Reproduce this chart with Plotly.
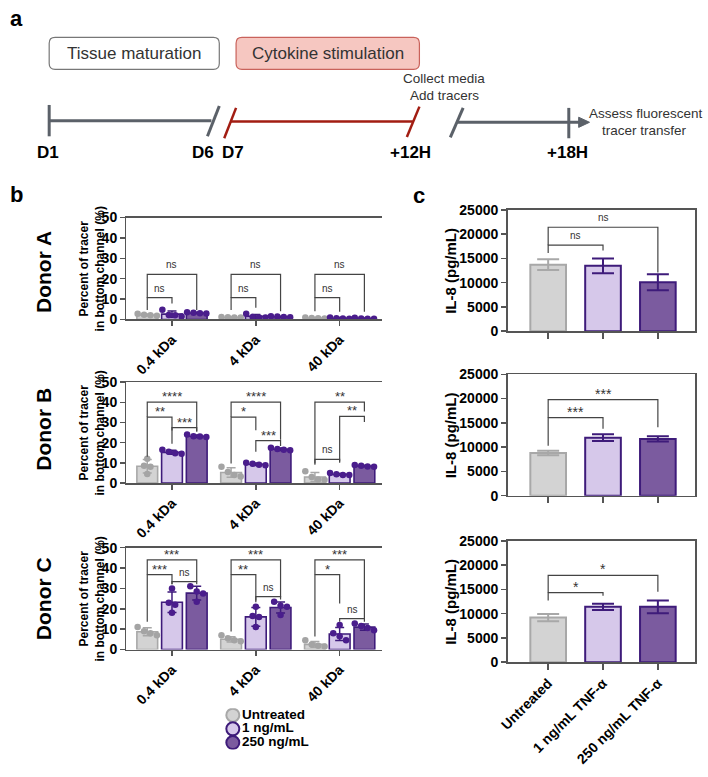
import plotly.graph_objects as go

# ---------------- data ----------------
tracer_sizes = ["0.4 kDa", "4 kDa", "40 kDa"]
treatments = ["Untreated", "1 ng/mL", "250 ng/mL"]
donors = ["Donor A", "Donor B", "Donor C"]

# rows: Untreated, 1 ng/mL, 250 ng/mL ; cols: 0.4, 4, 40 kDa
donorA_mean = [[2.2, 1.0, 0.7], [2.6, 1.5, 0.6], [3.2, 1.3, 0.5]]
donorA_sd = [[0.5, 0.2, 0.2], [1.5, 0.9, 0.3], [0.3, 0.3, 0.2]]
donorA_pts = [
    [[2.8, 2.0, 1.8, 2.3], [1.2, 1.0, 0.9, 1.1], [1.0, 0.7, 0.5, 0.6]],
    [[4.7, 2.0, 1.5, 2.2], [2.8, 1.0, 1.2, 1.0], [0.9, 0.4, 0.6, 0.5]],
    [[3.5, 3.3, 2.9, 3.1], [1.6, 1.4, 1.1, 1.2], [0.8, 0.5, 0.4, 0.4]],
]
donorB_mean = [[8.3, 5.2, 3.0], [15.2, 9.3, 4.3], [23.2, 16.7, 8.4]]
donorB_sd = [[3.3, 2.4, 2.2], [1.0, 0.6, 0.4], [0.6, 0.6, 0.4]]
donorB_pts = [
    [[12.0, 8.5, 8.0, 4.5], [8.0, 5.5, 4.0, 3.2], [5.8, 3.0, 1.8, 1.5]],
    [[16.5, 15.5, 14.8, 14.5], [10.0, 9.5, 9.0, 8.8], [4.9, 4.4, 4.0, 4.0]],
    [[24.0, 23.2, 23.0, 22.8], [17.5, 16.8, 16.5, 16.2], [8.9, 8.5, 8.2, 8.1]],
]
donorC_mean = [[8.7, 5.0, 2.5], [23.2, 16.0, 7.6], [27.7, 20.6, 11.0]]
donorC_sd = [[2.0, 1.3, 1.4], [5.0, 4.6, 3.2], [3.4, 2.7, 1.5]]
donorC_pts = [
    [[11.0, 9.0, 8.0, 7.0], [7.0, 5.5, 4.5, 4.0], [4.5, 2.5, 1.8, 1.5]],
    [[30.0, 23.0, 22.0, 18.0], [21.0, 16.5, 16.0, 11.0], [12.0, 8.0, 6.5, 4.5]],
    [[31.0, 28.5, 27.5, 23.5], [23.5, 21.5, 21.0, 17.0], [12.8, 11.5, 10.5, 9.5]],
]

# significance: (size index, group1, group2, bracket y, left leg end, right leg end, label)
donorA_sig = [
    (0, 0, 1, 10.7, 4.6, 7.8, "ns"), (0, 0, 2, 22.1, 10.7, 4.6, "ns"),
    (1, 0, 1, 10.7, 4.6, 5.8, "ns"), (1, 0, 2, 22.1, 10.7, 4.0, "ns"),
    (2, 0, 1, 10.7, 4.0, 3.8, "ns"), (2, 0, 2, 22.1, 10.7, 3.8, "ns"),
]
donorB_sig = [
    (0, 0, 2, 40.1, 32.7, 25.5, "****"), (0, 0, 1, 32.7, 13.0, 26.0, "**"), (0, 1, 2, 27.5, 19.4, 25.5, "***"),
    (1, 0, 2, 40.1, 32.7, 21.5, "****"), (1, 0, 1, 32.7, 9.7, 26.2, "*"), (1, 1, 2, 21.0, 15.5, 18.4, "***"),
    (2, 0, 2, 40.1, 9.0, 35.5, "**"), (2, 1, 2, 33.0, 10.7, 30.3, "**"), (2, 0, 1, 11.7, 9.7, 10.0, "ns"),
]
donorC_sig = [
    (0, 0, 2, 44.0, 36.8, 33.3, "***"), (0, 0, 1, 36.8, 13.6, 32.0, "***"), (0, 1, 2, 33.3, 32.0, 32.0, "ns"),
    (1, 0, 2, 44.0, 36.8, 25.6, "***"), (1, 0, 1, 36.8, 8.8, 23.2, "**"), (1, 1, 2, 26.0, 24.0, 24.5, "ns"),
    (2, 0, 2, 44.0, 36.8, 15.4, "***"), (2, 0, 1, 36.8, 6.4, 22.6, "*"), (2, 1, 2, 15.2, 13.6, 13.6, "ns"),
]

il8_categories = ["Untreated", "1 ng/mL TNF-α", "250 ng/mL TNF-α"]
il8_donorA_mean = [13700, 13450, 10100]
il8_donorA_sd = [1100, 1500, 1650]
il8_donorB_mean = [8800, 11950, 11700]
il8_donorB_sd = [450, 700, 550]
il8_donorC_mean = [9200, 11400, 11400]
il8_donorC_sd = [750, 650, 1300]
il8_ticks = [0, 5000, 10000, 15000, 20000, 25000]
pct_ticks = [0, 10, 20, 30, 40, 50]
# (group1, group2, bracket y, left leg end, right leg end, label)
il8_donorA_sig = [(0, 1, 17700, 16100, 16600, "ns"), (0, 2, 21400, 17700, 12100, "ns")]
il8_donorB_sig = [(0, 1, 16100, 10300, 13800, "***"), (0, 2, 19800, 16100, 14100, "***")]
il8_donorC_sig = [(0, 1, 14350, 12700, 13700, "*"), (0, 2, 17900, 14350, 14500, "*")]

# ---------------- style ----------------
W, H = 708, 777
FONT = "Liberation Sans, Arial, sans-serif"
fill_cols = ["#d3d3d3", "#d6c8ea", "#7b5b9f"]
edge_cols = ["#a8a8a8", "#3e1b7a", "#3e1b7a"]
pt_cols = ["#a4a4a4", "#4a1d8c", "#4a1d8c"]
AX = "#555555"
GROUP_STEP = 3.39


def px(x):
    return x / W


def py(y):
    return 1 - y / H


def bold(lst):
    return [f"<b>{v}</b>" for v in lst]


def swarm(vals, ypx, d=6.5):
    # symmetric horizontal spreading of points whose pixel heights collide
    order = sorted(range(len(vals)), key=lambda k: -vals[k])
    clusters = []
    for k in order:
        if clusters and abs(vals[clusters[-1][-1]] - vals[k]) * ypx < d:
            clusters[-1].append(k)
        else:
            clusters.append([k])
    offs = [0.0] * len(vals)
    for c in clusters:
        n = len(c)
        for j, k in enumerate(c):
            offs[k] = (j - (n - 1) / 2) * d
    return offs


def sig_label(x, y, xref, yref, lab, star_size):
    is_ns = lab == "ns"
    return dict(x=x, y=y, xref=xref, yref=yref, text=lab, showarrow=False,
                yanchor="bottom", yshift=2 if is_ns else -4,
                font=dict(family=FONT, size=10 if is_ns else star_size, color="#333333"))


fig = go.Figure()
shapes, annotations = [], []
layout = {}

b_domains = [(214, 318), (382, 485), (551, 655)]
b_data = [(donorA_mean, donorA_sd, donorA_pts, donorA_sig),
          (donorB_mean, donorB_sd, donorB_pts, donorB_sig),
          (donorC_mean, donorC_sd, donorC_pts, donorC_sig)]
b_xpx_per_unit = (378 - 119) / (9.5 + 0.84)

for di, ((top, bot), (means, sds, pts, sig)) in enumerate(zip(b_domains, b_data)):
    n = di + 1
    xa = "x" if n == 1 else f"x{n}"
    ya = "y" if n == 1 else f"y{n}"
    ypx = (bot - top) / 50.0
    for gi in range(3):
        xs = [s * GROUP_STEP + gi for s in range(3)]
        fig.add_trace(go.Bar(
            x=xs, y=means[gi], width=0.84, xaxis=xa, yaxis=ya, showlegend=False,
            marker=dict(color=fill_cols[gi], line=dict(color=edge_cols[gi], width=1.6)),
            error_y=dict(type="data", array=sds[gi], color=edge_cols[gi], thickness=1.5, width=4.5),
        ))
    for gi in range(3):
        px_x, px_y = [], []
        for s in range(3):
            offs = swarm(pts[gi][s], ypx)
            for v, o in zip(pts[gi][s], offs):
                px_x.append(s * GROUP_STEP + gi + o / b_xpx_per_unit)
                px_y.append(v)
        fig.add_trace(go.Scatter(
            x=px_x, y=px_y, mode="markers", xaxis=xa, yaxis=ya, showlegend=False,
            marker=dict(color=pt_cols[gi], size=6.5, line=dict(width=0)),
        ))
    for (s, g1, g2, yb, yl, yr, lab) in sig:
        x1 = s * GROUP_STEP + g1
        x2 = s * GROUP_STEP + g2
        shapes.append(dict(type="path", xref=xa, yref=ya,
                           path=f"M {x1},{yl} L {x1},{yb} L {x2},{yb} L {x2},{yr}",
                           line=dict(color="#444444", width=1.2)))
        annotations.append(sig_label((x1 + x2) / 2, yb, xa, ya, lab, 13))
    layout["xaxis" if n == 1 else f"xaxis{n}"] = dict(
        domain=[px(119), px(378)], range=[-0.84, 9.5], anchor=ya,
        tickvals=[s * GROUP_STEP + 1 for s in range(3)], ticktext=bold(tracer_sizes), tickangle=-45,
        ticks="outside", ticklen=5, tickwidth=1.5, tickcolor=AX,
        showline=True, linecolor=AX, linewidth=1.5, mirror=True,
        showgrid=False, zeroline=False,
        tickfont=dict(family=FONT, size=14, color="black"))
    layout["yaxis" if n == 1 else f"yaxis{n}"] = dict(
        domain=[py(bot), py(top)], range=[0, 50], tickvals=pct_ticks, ticktext=bold(pct_ticks),
        anchor=xa, ticks="outside", ticklen=5, tickwidth=1.5, tickcolor=AX,
        showline=True, linecolor=AX, linewidth=1.5, showgrid=False, zeroline=False,
        tickfont=dict(family=FONT, size=14, color="black"))
    annotations.append(dict(x=px(84), y=py((top + bot) / 2), xref="paper", yref="paper",
                            text="<b>Percent of tracer<br>in bottom channel (%)</b>", textangle=-90,
                            showarrow=False, xanchor="center", yanchor="middle",
                            font=dict(family=FONT, size=12, color="black")))
    annotations.append(dict(x=px(35), y=py([270, 430, 603][di]), xref="paper", yref="paper",
                            text=f"<b>{donors[di]}</b>", textangle=-90, showarrow=False,
                            xanchor="center", yanchor="middle",
                            font=dict(family=FONT, size=21, color="black")))

# ---------------- panel c ----------------
c_domains = [(206, 330), (374, 498), (544, 668)]
c_data = [(il8_donorA_mean, il8_donorA_sd, il8_donorA_sig),
          (il8_donorB_mean, il8_donorB_sd, il8_donorB_sig),
          (il8_donorC_mean, il8_donorC_sd, il8_donorC_sig)]
for ci, ((top, bot), (means, sds, sig)) in enumerate(zip(c_domains, c_data)):
    n = ci + 4
    xa, ya = f"x{n}", f"y{n}"
    for gi in range(3):
        fig.add_trace(go.Bar(
            x=[gi], y=[means[gi]], width=0.65, xaxis=xa, yaxis=ya, showlegend=False,
            marker=dict(color=fill_cols[gi], line=dict(color=edge_cols[gi], width=2)),
            error_y=dict(type="data", array=[sds[gi]], color=edge_cols[gi], thickness=2, width=11),
        ))
    for (g1, g2, yb, yl, yr, lab) in sig:
        shapes.append(dict(type="path", xref=xa, yref=ya,
                           path=f"M {g1},{yl} L {g1},{yb} L {g2},{yb} L {g2},{yr}",
                           line=dict(color="#444444", width=1.2)))
        annotations.append(sig_label((g1 + g2) / 2, yb, xa, ya, lab, 14))
    layout[f"xaxis{n}"] = dict(
        domain=[px(505), px(695)], range=[-0.74, 2.68], anchor=ya,
        tickvals=[0, 1, 2], ticktext=bold(il8_categories), showticklabels=(ci == 2), tickangle=-45,
        ticks="outside", ticklen=6, tickwidth=1.5, tickcolor=AX,
        showline=True, linecolor=AX, linewidth=1.5, mirror=True,
        showgrid=False, zeroline=False,
        tickfont=dict(family=FONT, size=14, color="black"))
    layout[f"yaxis{n}"] = dict(
        domain=[py(bot), py(top)], range=[0, 25000], tickvals=il8_ticks, ticktext=bold(il8_ticks),
        anchor=xa, ticks="outside", ticklen=5, tickwidth=1.5, tickcolor=AX,
        showline=True, linecolor=AX, linewidth=1.5, mirror=True, showgrid=False, zeroline=False,
        tickfont=dict(family=FONT, size=14, color="black"))
    annotations.append(dict(x=px(447), y=py((top + bot) / 2), xref="paper", yref="paper",
                            text="<b>IL-8 (pg/mL)</b>", textangle=-90, showarrow=False,
                            xanchor="center", yanchor="middle",
                            font=dict(family=FONT, size=15, color="black")))

# ---------------- legend (own invisible axis) ----------------
fig.add_trace(go.Scatter(
    x=[8.7, 8.7, 8.7], y=[2.5, 1.5, 0.5], xaxis="x7", yaxis="y7", mode="markers+text",
    text=bold(treatments), textposition="middle right", showlegend=False,
    textfont=dict(family=FONT, size=13.5, color="black"),
    marker=dict(size=13, color=fill_cols, line=dict(color=edge_cols, width=2)),
))
layout["xaxis7"] = dict(domain=[px(218), px(318)], range=[0, 100], visible=False, anchor="y7")
layout["yaxis7"] = dict(domain=[py(757), py(715)], range=[0, 3], visible=False, anchor="x7")

# ---------------- panel a (timeline diagram) ----------------
def rrect(x0, y0, x1, y1, r, fill, line):
    X0, X1, Y0, Y1 = px(x0), px(x1), py(y0), py(y1)
    rx, ry = r / W, r / H
    path = (f"M {X0 + rx},{Y0} L {X1 - rx},{Y0} Q {X1},{Y0} {X1},{Y0 - ry} "
            f"L {X1},{Y1 + ry} Q {X1},{Y1} {X1 - rx},{Y1} L {X0 + rx},{Y1} "
            f"Q {X0},{Y1} {X0},{Y1 + ry} L {X0},{Y0 - ry} Q {X0},{Y0} {X0 + rx},{Y0} Z")
    shapes.append(dict(type="path", xref="paper", yref="paper", path=path,
                       fillcolor=fill, line=dict(color=line, width=1.2)))


def seg(x0, y0, x1, y1, color, w):
    shapes.append(dict(type="line", xref="paper", yref="paper", x0=px(x0), y0=py(y0),
                       x1=px(x1), y1=py(y1), line=dict(color=color, width=w)))


def text(x, y, t, size, is_bold=False, color="black", xanchor="center"):
    annotations.append(dict(x=px(x), y=py(y), xref="paper", yref="paper",
                            text=f"<b>{t}</b>" if is_bold else t,
                            showarrow=False, xanchor=xanchor, yanchor="middle",
                            font=dict(family=FONT, size=size, color=color)))


GRAY = "#5b6169"
RED = "#a21d12"
rrect(40.7, 30, 213, 62.7, 6, "white", "#777777")
rrect(230, 30, 415.7, 62.7, 6, "#f6c7c1", "#c9625b")
text(127, 46.5, "Tissue maturation", 17, color="#333333")
text(323, 46.5, "Cytokine stimulation", 17, color="#333333")

seg(40.7, 99, 40.7, 131, GRAY, 3)
seg(40.7, 115, 205, 115, GRAY, 3)
seg(213, 100, 201, 131, GRAY, 3)
seg(230, 102, 218, 133, RED, 2.5)
seg(224, 116, 409, 116, RED, 2.5)
seg(415.7, 100.7, 403, 131.7, RED, 2.5)
seg(460, 102, 447, 132, GRAY, 3)
seg(454, 116.7, 579, 116.7, GRAY, 3)
seg(567, 102, 567, 133, GRAY, 3)
shapes.append(dict(type="path", xref="paper", yref="paper",
                   path=f"M {px(577)},{py(111.5)} L {px(588)},{py(116.7)} L {px(577)},{py(121.9)} Z",
                   fillcolor=GRAY, line=dict(color=GRAY, width=1)))

for lx, lt in [(39, "D1"), (196, "D6"), (227, "D7"), (407, "+12H"), (566, "+18H")]:
    text(lx, 148, lt, 17, is_bold=True)
text(441, 72, "Collect media", 13.5, color="#333333")
text(441, 89, "Add tracers", 13.5, color="#333333")
text(705, 108, "Assess fluorescent", 13.5, color="#333333", xanchor="right")
text(689, 125, "tracer transfer", 13.5, color="#333333", xanchor="right")

text(8, 11, "a", 22, is_bold=True)
text(8, 190, "b", 22, is_bold=True)
text(415, 191, "c", 22, is_bold=True)

fig.update_layout(
    width=W, height=H, margin=dict(l=0, r=0, t=0, b=0),
    paper_bgcolor="white", plot_bgcolor="white",
    barmode="overlay", showlegend=False, hovermode=False,
    shapes=shapes, annotations=annotations,
    font=dict(family=FONT, color="black"),
    **layout,
)
fig.write_html("out.html", config={"displayModeBar": False, "staticPlot": True},
               post_script="document.body.style.margin='0';document.body.style.overflow='hidden';")
